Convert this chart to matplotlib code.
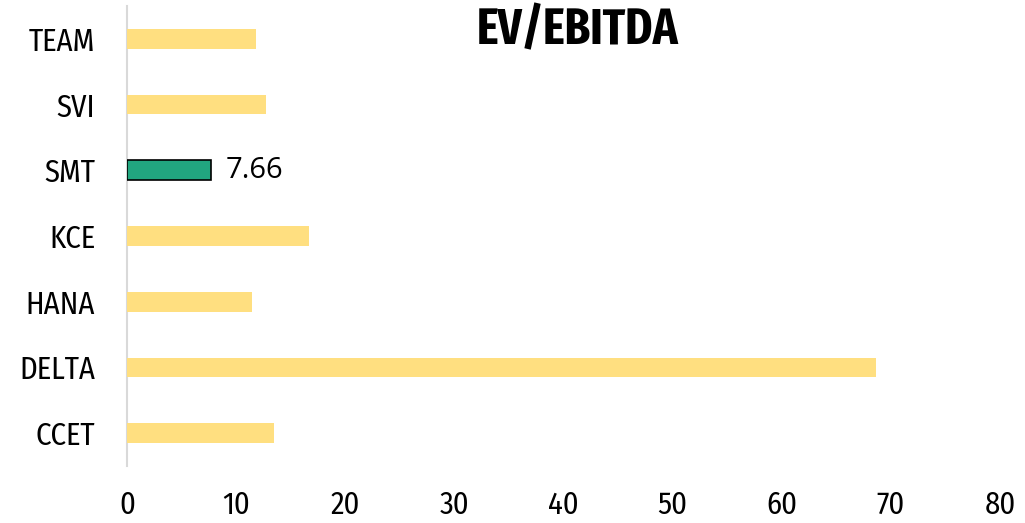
import matplotlib
matplotlib.use("Agg")
import matplotlib.pyplot as plt

categories = ["CCET", "DELTA", "HANA", "KCE", "SMT", "SVI", "TEAM"]
values = [13.5, 68.6, 11.5, 16.7, 7.66, 12.7, 11.8]
highlight = "SMT"
xticks = [0, 10, 20, 30, 40, 50, 60, 70, 80]

cond = ["Fira Sans Condensed", "DejaVu Sans"]
xcond = ["Fira Sans Extra Condensed", "Fira Sans Condensed", "DejaVu Sans"]

fig = plt.figure(figsize=(10.25, 5.23), dpi=100)
ax = fig.add_axes([127/1025, 1-466/523, (1000-127)/1025, 460/523])

yellow = "#FFDF80"
green = "#21A67F"
for i, (c, v) in enumerate(zip(categories, values)):
    if c == highlight:
        ax.barh(i, v, height=0.30, color=green, edgecolor="black", linewidth=1.2, zorder=3)
        ax.text(v + 1.4, i, f"{v:.2f}", va="center", ha="left", fontsize=21,
                family=["Open Sans", "DejaVu Sans"], color="black")
    else:
        ax.barh(i, v, height=0.30, color=yellow, zorder=3)

ax.set_xlim(0, 80)
ax.set_ylim(-0.5, len(categories) - 0.5)
ax.set_yticks(range(len(categories)))
ax.set_yticklabels(categories, family=cond, fontsize=22)
ax.set_xticks(xticks)
ax.set_xticklabels([str(t) for t in xticks], family=cond, fontsize=22)
ax.tick_params(axis="y", length=0, pad=23)
ax.tick_params(axis="x", length=0, pad=17)
for s in ["top", "right", "bottom"]:
    ax.spines[s].set_visible(False)
ax.spines["left"].set_color("#D9D9D9")
ax.spines["left"].set_linewidth(1.5)

fig.text(578/1025, 1-31/523, "EV/EBITDA", ha="center", va="center",
         fontsize=36, fontweight="bold", family=xcond)

fig.savefig("out.png", dpi=100)
